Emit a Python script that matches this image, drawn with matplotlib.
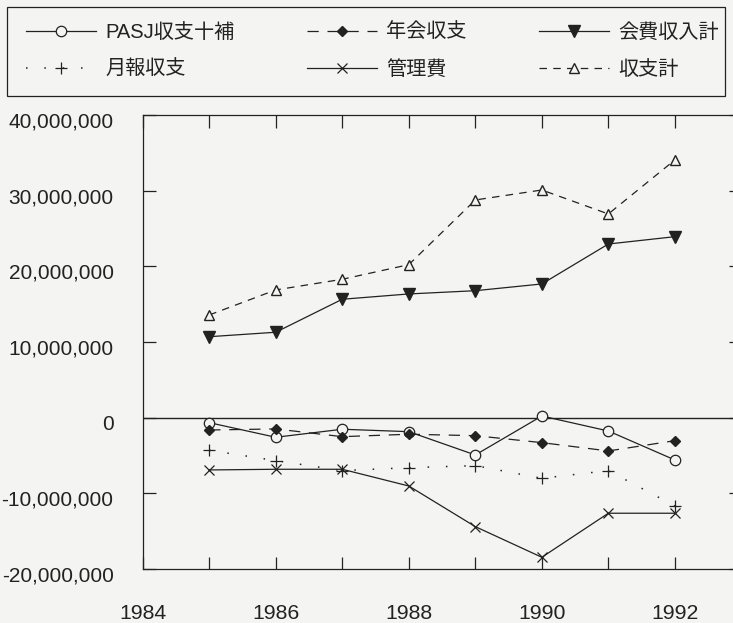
import matplotlib
matplotlib.use("Agg")
import matplotlib.pyplot as plt
import matplotlib.transforms as mtransforms
from matplotlib.patches import Rectangle

plt.rcParams["font.family"] = ["Liberation Sans", "Noto Sans CJK JP", "DejaVu Sans"]

# --- data (yen) ---
years = [1985, 1986, 1987, 1988, 1989, 1990, 1991, 1992]
pasj = [-660000, -2590000, -1530000, -1850000, -4930000, 220000, -1760000, -5590000]
nenkai = [-1630000, -1490000, -2510000, -2190000, -2380000, -3300000, -4400000, -3040000]
kaihi = [10700000, 11290000, 15650000, 16350000, 16780000, 17670000, 22950000, 23920000]
geppo = [-4310000, -5680000, -7000000, -6610000, -6340000, -8010000, -7000000, -11670000]
kanri = [-6910000, -6820000, -6820000, -9030000, -14400000, -18450000, -12630000, -12630000]
shushi = [13570000, 16880000, 18290000, 20220000, 28770000, 30090000, 26920000, 34060000]

series_labels = ["PASJ収支十補", "年会収支", "会費収入計", "月報収支", "管理費", "収支計"]

x_ticks = [1984, 1985, 1986, 1987, 1988, 1989, 1990, 1991, 1992]
x_labels = ["1984", "", "1986", "", "1988", "", "1990", "", "1992"]
y_ticks = [-20000000, -10000000, 0, 10000000, 20000000, 30000000, 40000000]
y_labels = ["-20,000,000", "-10,000,000", "0", "10,000,000", "20,000,000",
            "30,000,000", "40,000,000"]

BG = "#f4f4f2"
INK = "#222222"

fig = plt.figure(figsize=(7.33, 6.23), dpi=100, facecolor=BG)
# axes run past the right edge of the picture (scan is cropped)
ax = fig.add_axes([142.7 / 733, 54 / 623, 598.7 / 733, 454 / 623], facecolor=BG)

lw = 0.9
h1, = ax.plot(years, pasj, color=INK, lw=lw, marker="o", ms=7.5, mfc=BG, mec=INK, mew=0.9)
h2, = ax.plot(years, nenkai, color=INK, lw=lw, ls=(0, (9, 7)), marker="D", ms=5.5, mfc=INK, mec=INK)
h3, = ax.plot(years, kaihi, color=INK, lw=lw, marker="v", ms=8, mfc=INK, mec=INK)
h4, = ax.plot(years, geppo, color=INK, lw=1.1, ls=(0, (1, 11)), marker="+", ms=9, mew=0.9)
h5, = ax.plot(years, kanri, color=INK, lw=lw, marker="x", ms=7.5, mew=0.9)
h6, = ax.plot(years, shushi, color=INK, lw=lw, ls=(0, (6, 5)), marker="^", ms=6.5, mfc=BG, mec=INK, mew=1.0)

ax.axhline(0, color=INK, lw=1.0, zorder=1)

ax.set_xlim(1984, 1993)
ax.set_ylim(-20000000, 40000000)
ax.set_xticks(x_ticks)
ax.set_xticklabels(x_labels)
ax.set_yticks(y_ticks)
ax.set_yticklabels(y_labels)

ax.tick_params(axis="both", direction="in", length=9, width=0.9, color=INK,
               labelcolor=INK, top=True, right=True)
ax.tick_params(axis="x", pad=25, labelsize=15.3)
ax.tick_params(axis="y", pad=21, labelsize=15)
for lab in ax.get_yticklabels():
    lab.set_transform(lab.get_transform() + mtransforms.ScaledTranslation(0, -5 / 100, fig.dpi_scale_trans))

for sp in ax.spines.values():
    sp.set_color(INK)
    sp.set_linewidth(0.9)

# legend box drawn separately so the margins match the scan
fig.add_artist(Rectangle((7 / 733, 1 - 96 / 623), 718 / 733, 89 / 623,
                         transform=fig.transFigure, fill=False, ec=INK, lw=0.9))

# legend: column-major order so rows read across
handles = [h1, h4, h2, h5, h3, h6]
labels = [series_labels[i] for i in (0, 3, 1, 4, 2, 5)]
leg = fig.legend(handles, labels, loc="upper left",
                 bbox_to_anchor=(26 / 733, 1 - 23 / 623),
                 ncol=3, fontsize=14.5, frameon=False, handlelength=3.48,
                 handletextpad=0.45, columnspacing=3.6, labelspacing=0.9,
                 borderpad=0, borderaxespad=0, numpoints=1)
for t in leg.get_texts():
    t.set_color(INK)

plt.savefig("out.png", dpi=100, facecolor=BG)
plt.close()
